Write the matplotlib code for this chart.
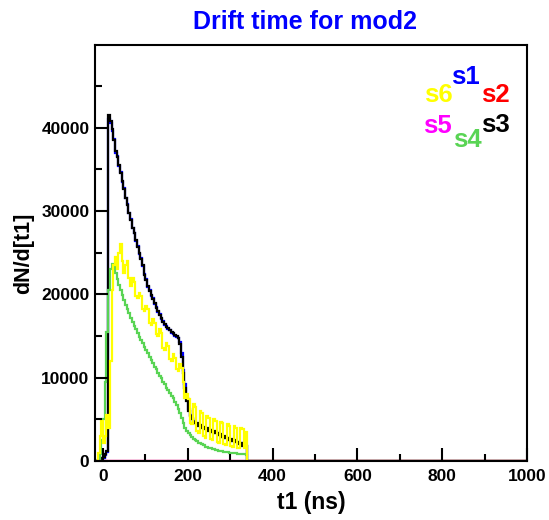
import numpy as np
import matplotlib
matplotlib.use('Agg')
import matplotlib.pyplot as plt
from matplotlib.ticker import MultipleLocator

plt.rcParams['font.family'] = ['Liberation Sans', 'DejaVu Sans']
plt.rcParams['font.weight'] = 'bold'

# histogram binning: 4 ns bins starting at -20 ns
bin_width = 4
first_edge = -20

# bin contents (bins from -20 ns to 340 ns, zero afterwards)
s1 = [0, 0, 0, 0, 200, 400, 700, 1100, 41000, 40500,
      39600, 38600, 37000, 36600, 35400, 34700, 33500, 32700, 31500, 30800,
      29700, 29000, 27900, 27400, 26400, 25800, 24800, 24300, 23400, 22400,
      21800, 20900, 20500, 19800, 19500, 18800, 18500, 17900, 17600, 17000,
      16800, 16300, 16200, 15800, 15700, 15400, 15200, 15000, 14900, 14800,
      14300, 12900, 10900, 9200, 7500, 6200, 5500, 5100, 4800, 4600,
      4400, 4300, 4200, 4100, 4000, 3900, 3800, 3700, 3700, 3500,
      3500, 3300, 3300, 3100, 3100, 2900, 2900, 2700, 2700, 2550,
      2550, 2400, 2400, 2250, 2250, 2100, 2100, 1950, 1900, 1800]
s2 = [0] * 90
s3 = [0, 0, 0, 0, 300, 500, 800, 1200, 41500, 40800,
      39800, 38500, 37200, 36500, 35500, 34600, 33600, 32600, 31600, 30700,
      29800, 28900, 28000, 27300, 26500, 25700, 24900, 24200, 23500, 22300,
      21700, 21000, 20400, 19900, 19400, 18900, 18400, 18000, 17500, 17100,
      16700, 16400, 16100, 15900, 15700, 15500, 15300, 15100, 15000, 14700,
      14000, 12500, 10500, 8800, 7200, 6000, 5400, 5000, 4700, 4500,
      4500, 4200, 4300, 4000, 4100, 3800, 3900, 3600, 3750, 3500,
      3600, 3300, 3400, 3100, 3200, 2900, 3000, 2700, 2800, 2550,
      2650, 2400, 2500, 2250, 2300, 2050, 2100, 1850, 1900, 1800]
s4 = [0, 0, 200, 800, 2500, 5000, 9500, 15500, 20500, 23000,
      23600, 23300, 22500, 21800, 21100, 20500, 19900, 19300, 18700, 18200,
      17700, 17200, 16700, 16200, 15800, 15300, 14900, 14500, 14100, 13700,
      13300, 12900, 12500, 12100, 11700, 11300, 11000, 10600, 10200, 9900,
      9500, 9200, 8800, 8500, 8200, 7800, 7500, 7100, 6700, 6200,
      5700, 5100, 4600, 4000, 3600, 3400, 3100, 2850, 2650, 2500,
      2350, 2200, 2100, 2000, 1950, 1700, 1650, 1550, 1500, 1450,
      1400, 1350, 1300, 1250, 1200, 1150, 1100, 1080, 1050, 1000,
      980, 950, 930, 900, 880, 850, 830, 800, 780, 760]
s5 = [0] * 90
s6 = [0, 0, 1000, 3000, 4800, 2200, 3000, 5500, 4000, 12000,
      20500, 23500, 24500, 23000, 25000, 26000, 24000, 22500, 23500, 24000,
      22000, 21000, 22000, 21500, 19800, 19500, 20200, 19800, 18200, 18000,
      18600, 18200, 16600, 16300, 17000, 16600, 15200, 15000, 15800, 15400,
      13600, 13300, 14200, 13800, 12200, 12000, 12800, 12400, 11000, 10800,
      11600, 11200, 9500, 7600, 8000, 7400, 4600, 4400, 6800, 6500,
      3600, 3400, 6000, 5800, 3000, 2800, 5400, 5200, 2600, 2500,
      5000, 4800, 2300, 2200, 4700, 4500, 2000, 1900, 4400, 4200,
      1800, 1700, 4200, 4000, 1600, 1550, 4000, 3800, 1500, 3500]

series = {'s1': s1, 's2': s2, 's3': s3, 's4': s4, 's5': s5, 's6': s6}
colors = {'s1': '#0000ff', 's2': '#ff0000', 's3': '#000000',
          's4': '#59d454', 's5': '#ff00ff', 's6': '#ffff00'}

edges = np.arange(first_edge, 1005, bin_width)
n_bins = len(edges) - 1

fig = plt.figure(figsize=(5.49, 5.20), dpi=100)
ax = fig.add_axes([95 / 549, 1 - 461 / 520, 432 / 549, 416 / 520])

for name, vals in series.items():
    full = np.zeros(n_bins)
    full[:len(vals)] = vals
    ax.stairs(full, edges, color=colors[name], linewidth=1.6, baseline=None)

ax.set_xlim(-19, 1000)
ax.set_ylim(0, 49900)

ax.xaxis.set_major_locator(MultipleLocator(200))
ax.xaxis.set_minor_locator(MultipleLocator(100))
ax.yaxis.set_major_locator(MultipleLocator(10000))
ax.yaxis.set_minor_locator(MultipleLocator(5000))
ax.tick_params(which='both', direction='in', top=False, right=False, width=1.5)
ax.tick_params(which='major', length=9.5)
ax.tick_params(which='minor', length=5)
ax.tick_params(axis='y', pad=4, labelsize=12.5)
ax.tick_params(axis='x', pad=6, labelsize=12.5)
for lab in ax.get_xticklabels() + ax.get_yticklabels():
    lab.set_fontweight('bold')
for sp in ax.spines.values():
    sp.set_linewidth(1.5)

ax.set_xlabel('t1 (ns)', fontsize=16.5, fontweight='bold', labelpad=5)
ax.set_ylabel('dN/d[t1]', fontsize=15.5, fontweight='bold', labelpad=5)

fig.text(305 / 549, 1 - 22 / 520, 'Drift time for mod2', color='#0000ff',
         fontsize=18, fontweight='bold', ha='center', va='center')

# legend-like labels
label_pos = {'s1': (465, 77), 's6': (438, 95), 's2': (495, 95),
             's5': (437, 126), 's4': (467, 140), 's3': (495, 125)}
for name, (px, py) in label_pos.items():
    fig.text(px / 549, 1 - py / 520, name, color=colors[name], fontsize=18.5,
             fontweight='bold', ha='center', va='center')

fig.savefig('out.png', dpi=100)
